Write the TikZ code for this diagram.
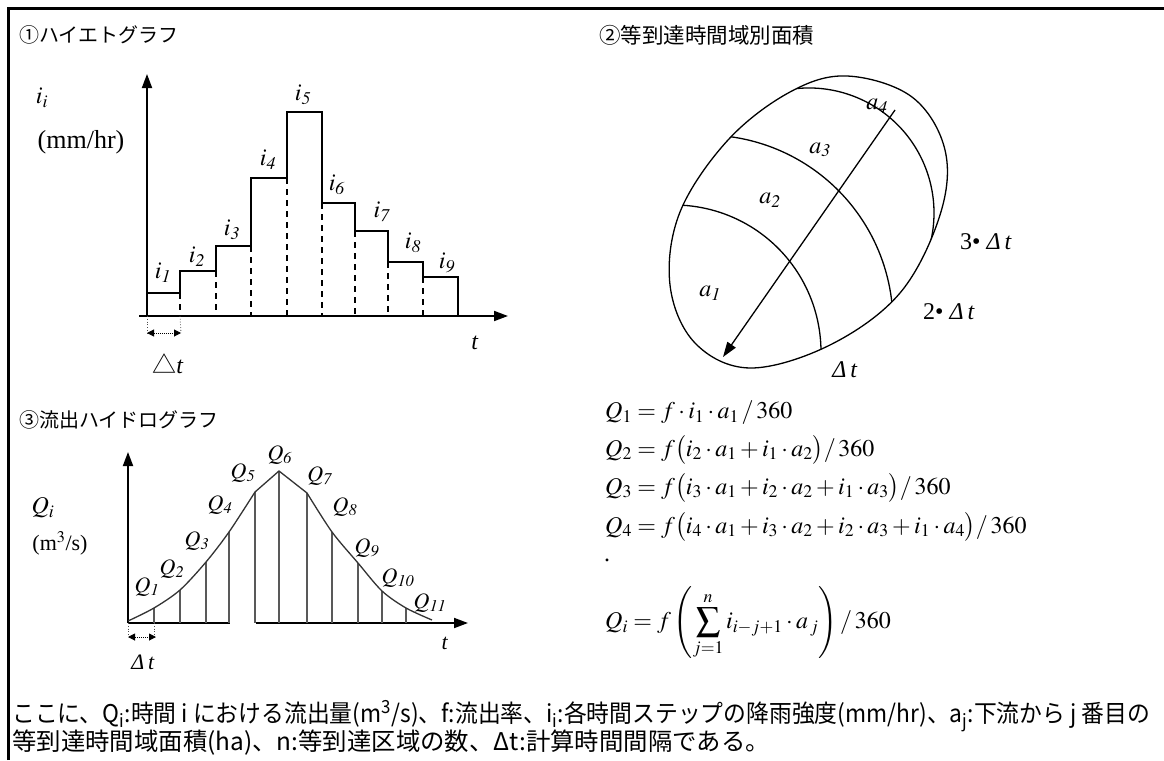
\documentclass[tikz,border=0pt]{standalone}
\usepackage{graphicx}
\usepackage{mathptmx}
\usepackage{fontspec}
\setmainfont{Liberation Serif}
\newfontfamily\jpfont{Noto Sans CJK JP}
\usetikzlibrary{arrows.meta, positioning}
\newcommand{\sublab}[2]{$#1_{\mathit{#2}}$}
\newcommand{\basinpath}{plot[smooth cycle, tension=0.6] coordinates {(847,76) (912,97) (945,150) (940,215)
    (900,293) (830,345) (750,368) (695,343) (670,285) (680,212) (728,140) (790,92)}}
\tikzset{
    axisline/.style={line width=1.8pt, -{Triangle[length=14pt, width=10pt]}},
    stepline/.style={line width=1.8pt, line join=miter},
    dashline/.style={line width=1.8pt, dash pattern=on 6pt off 5pt},
    guideline/.style={line width=0.8pt, dotted, black!70},
    dtarrow/.style={line width=1pt, densely dotted, {Triangle[length=7pt, width=7pt]}-{Triangle[length=7pt, width=7pt]}},
    hydroline/.style={line width=1.3pt, black!80},
    ordline/.style={line width=1.2pt, black!65},
    isoline/.style={line width=1.3pt},
    jptitle/.style={font=\jpfont\fontsize{20}{24}\selectfont, anchor=west, inner sep=0pt},
    lbl/.style={font=\fontsize{24}{28}\selectfont, inner sep=0pt},
    qlbl/.style={font=\fontsize{22}{26}\selectfont, inner sep=0pt},
    eqn/.style={font=\fontsize{24}{28}\selectfont, anchor=west, inner sep=0pt},
    note/.style={font=\jpfont\fontsize{24.4}{28}\selectfont, anchor=west, inner sep=0pt}
}

\begin{document}
\begin{tikzpicture}[x=1pt, y=-1pt]
    \useasboundingbox (0,0) rectangle (1164,760);
    % frame
    \draw[line width=2.7pt] (8.7,760) -- (8.7,8.7) -- (1164,8.7);

    % Titles
    \node[jptitle] (title1) at (19,35) {①ハイエトグラフ};
    \node[jptitle, font=\jpfont\fontsize{21.5}{24}\selectfont] (title2) at (599,35) {②等到達時間域別面積};
    \node[jptitle] (title3) at (19,420) {③流出ハイドログラフ};

    % ---------- hyetograph ----------
    \coordinate (hO) at (147,316);
    \coordinate (hY) at (147,74);
    \coordinate (hXs) at (139,316);
    \coordinate (hX) at (508,316);
    \draw[axisline] (hO) -- (hY);
    \draw[axisline] (hXs) -- (hX);
    \draw[stepline] (147,316) -- (147,293) -- (180,293) -- (180,271) -- (216,271)
        -- (216,246) -- (251,246) -- (251,178) -- (287,178) -- (287,112)
        -- (322,112) -- (322,203) -- (355,203) -- (355,231) -- (388,231)
        -- (388,262) -- (423,262) -- (423,277) -- (458,277) -- (458,316);
    \foreach \x/\y in {180/293, 216/271, 251/246, 287/178, 322/203, 355/231, 388/262, 423/277}
        \draw[dashline] (\x,\y) -- (\x,316);
    \foreach \n/\x/\y in {1/163/273, 2/197/257, 3/232/230, 4/268/160, 5/303/95,
                          6/337/185, 7/382/212, 8/413/243, 9/447/263}
        \node[lbl] (i\n) at (\x,\y) {\sublab{i}{\n}};
    \node[lbl] (iunit) at (42,98) {$i_i$};
    \node[lbl, font=\fontsize{26}{30}\selectfont] (mmhr) at (81,142) {(mm/hr)};
    \node[lbl] (ht) at (475,343) {\textit{t}};
    % time step
    \coordinate (hd1) at (147,333);
    \coordinate (hd2) at (181,333);
    \draw[guideline] (hO) -- (hd1);
    \draw[guideline] (180,316) -- (hd2);
    \draw[dtarrow] (hd1) -- (hd2);
    \node[lbl] (hdt) at (168,364) {{\jpfont △}\textit{t}};

    % ---------- isochrone areas ----------
    \draw[isoline] \basinpath;
    \begin{scope}
        \clip \basinpath;
        \draw[isoline] (674,352) ++(-100:147) arc[start angle=-100, end angle=15, radius=147];
        \draw[isoline] (705,323) ++(-100:188) arc[start angle=-100, end angle=15, radius=188];
        \draw[isoline] (809,213) ++(-110:125) arc[start angle=-110, end angle=25, radius=125];
    \end{scope}
    \coordinate (ridge) at (895,110);
    \coordinate (outlet) at (723,357);
    \draw[isoline, -{Triangle[length=15pt, width=10pt]}] (ridge) -- (outlet);
    \foreach \n/\x/\y in {1/710/293, 2/770/200, 3/820/150, 4/877/106}
        \node[lbl] (a\n) at (\x,\y) {\sublab{a}{\n}};
    \node[lbl] (dt3) at (986,242) {3\textbullet\ \textit{Δ\,t}};
    \node[lbl] (dt2) at (949,312) {2\textbullet\ \textit{Δ\,t}};
    \node[lbl] (dt1) at (845,370) {\textit{Δ\,t}};

    % ---------- hydrograph ----------
    \coordinate (qO) at (128,623);
    \coordinate (qY) at (128,452);
    \coordinate (qXa) at (230,623);
    \coordinate (qXb) at (256,623);
    \coordinate (qX) at (468,623);
    \draw[axisline] (qO) -- (qY);
    \draw[line width=1.8pt] (qO) -- (qXa);
    \draw[axisline] (qXb) -- (qX);
    \foreach \x/\y in {154/608, 180/590, 206/562, 229/532, 255/492, 279/471,
                       307/493, 332/532, 358/563, 382/591, 406/608}
        \draw[ordline] (\x,\y) -- (\x,623);
    \draw[hydroline] plot[smooth, tension=0.5] coordinates {(128,621) (154,608) (180,590) (206,562) (229,532) (255,492)}
        -- (279,471) -- (307,493)
        -- plot[smooth, tension=0.5] coordinates {(307,493) (332,532) (358,563) (382,591) (406,608) (432,620)};
    \foreach \n/\x/\y in {1/147/587, 2/172/569, 3/197/541, 4/220/505, 5/243/473, 6/280/455,
                          7/320/476, 8/345/507, 9/367/548, 10/398/578, 11/430/603}
        \node[qlbl] (q\n) at (\x,\y) {\sublab{Q}{\n}};
    \node[lbl] (qunit) at (43,508) {$Q_i$};
    \node[qlbl] (m3s) at (60,543) {(m$^3$/s)};
    \node[qlbl] (qt) at (445,643) {\textit{t}};
    \coordinate (qd1) at (128,637);
    \coordinate (qd2) at (156,637);
    \draw[guideline] (qO) -- (qd1);
    \draw[guideline] (154,623) -- (154,637);
    \draw[dtarrow] (qd1) -- (qd2);
    \node[qlbl] (qdt) at (143,662) {\textit{Δ\,t}};

    % ---------- equations ----------
    \node[eqn] (eq1) at (605,413) {$Q_1 = f\cdot i_1\cdot a_1\,/\,360$};
    \node[eqn] (eq2) at (605,450) {$Q_2 = f\bigl(i_2\cdot a_1 + i_1\cdot a_2\bigr)/\,360$};
    \node[eqn] (eq3) at (605,488) {$Q_3 = f\bigl(i_3\cdot a_1 + i_2\cdot a_2 + i_1\cdot a_3\bigr)/\,360$};
    \node[eqn] (eq4) at (605,527) {$Q_4 = f\bigl(i_4\cdot a_1 + i_3\cdot a_2 + i_2\cdot a_3 + i_1\cdot a_4\bigr)/\,360$};
    \node[eqn] (eqdot) at (604,560) {.};
    \node[eqn] (eqi) at (605,623) {$Q_i = f\left(\displaystyle\sum_{j=1}^{n} i_{i-j+1}\cdot a_{\,j}\right)/\,360$};

    % ---------- note ----------
    \node[note] (note1) at (12,716) {\resizebox{1138pt}{\height}{ここに、Q\textsubscript{i}:時間 i における流出量(m\textsuperscript{3}/s)、f:流出率、i\textsubscript{i}:各時間ステップの降雨強度(mm/hr)、a\textsubscript{j}:下流から j 番目の}};
    \node[note] (note2) at (12,743) {等到達時間域面積(ha)、n:等到達区域の数、Δt:計算時間間隔である。};
\end{tikzpicture}
\end{document}
